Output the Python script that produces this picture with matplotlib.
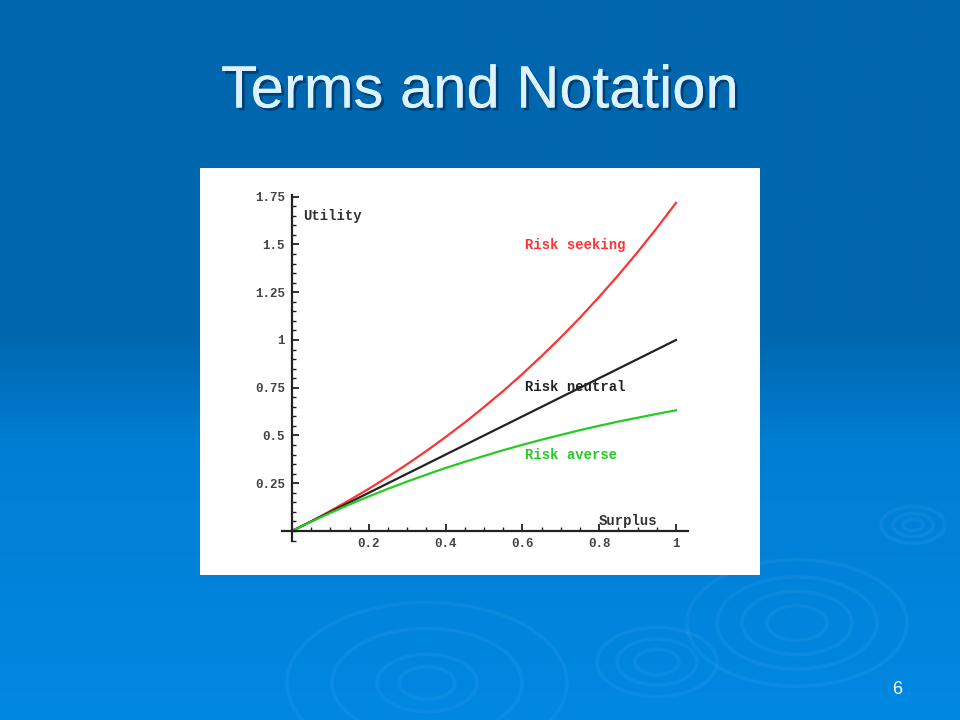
import matplotlib
matplotlib.use("Agg")
import matplotlib.pyplot as plt
import matplotlib.patheffects as pe
from matplotlib.patches import Rectangle, Ellipse
from matplotlib.ticker import MultipleLocator, FixedLocator
import numpy as np

# values
surplus = [0.0, 0.05, 0.1, 0.15, 0.2, 0.25, 0.3, 0.35, 0.4, 0.45, 0.5,
           0.55, 0.6, 0.65, 0.7, 0.75, 0.8, 0.85, 0.9, 0.95, 1.0]
risk_seeking = [0.0, 0.051, 0.105, 0.162, 0.221, 0.284, 0.350, 0.419, 0.492, 0.568, 0.649,
                0.733, 0.822, 0.916, 1.014, 1.117, 1.226, 1.340, 1.460, 1.586, 1.718]
risk_neutral = [0.0, 0.05, 0.1, 0.15, 0.2, 0.25, 0.3, 0.35, 0.4, 0.45, 0.5,
                0.55, 0.6, 0.65, 0.7, 0.75, 0.8, 0.85, 0.9, 0.95, 1.0]
risk_averse = [0.0, 0.049, 0.095, 0.139, 0.181, 0.221, 0.259, 0.295, 0.330, 0.362, 0.393,
               0.423, 0.451, 0.478, 0.503, 0.528, 0.551, 0.573, 0.593, 0.613, 0.632]

x_ticks = [0.2, 0.4, 0.6, 0.8, 1.0]
x_labels = ["0.2", "0.4", "0.6", "0.8", "1"]
y_ticks = [0.25, 0.5, 0.75, 1.0, 1.25, 1.5, 1.75]
y_labels = ["0.25", "0.5", "0.75", "1", "1.25", "1.5", "1.75"]

W, H = 960, 720
fig = plt.figure(figsize=(9.6, 7.2), dpi=100)

# slide background
bg = fig.add_axes([0, 0, 1, 1])
bg.set_xlim(0, W)
bg.set_ylim(H, 0)
bg.axis("off")
stops = [0.0, 0.46, 0.62, 1.0]
cols = np.array([[0x00, 0x66, 0xAE], [0x00, 0x66, 0xAE],
                 [0x00, 0x7E, 0xD4], [0x00, 0x88, 0xE2]]) / 255.0
t = np.linspace(0, 1, 400)
grad = np.stack([np.interp(t, stops, cols[:, i]) for i in range(3)], axis=1)
bg.imshow(grad[:, None, :], extent=[0, W, H, 0], aspect="auto")

# ripples
ripples = [(797, 623, [110, 80, 55, 30]), (657, 662, [60, 40, 22]),
           (913, 525, [32, 20, 10]), (427, 683, [140, 95, 50, 28])]
for cx, cy, radii in ripples:
    for r in radii:
        bg.add_patch(Ellipse((cx, cy), 2 * r, 1.15 * r, fill=False,
                             ec=(0.45, 0.75, 1.0), lw=2.5, alpha=0.1))

# white picture box
bg.add_patch(Rectangle((200, 168), 560, 407, fc="white", ec="none"))

bg.text(480, 92, "Terms and Notation", ha="center", va="center",
        fontsize=43, family="Liberation Sans", color="#DDF2FF",
        path_effects=[pe.withSimplePatchShadow(offset=(2, -2),
                                               shadow_rgbFace="#002850", alpha=0.6),
                      pe.Normal()])
bg.text(897, 689, "6", ha="center", va="center", fontsize=13,
        family="Liberation Sans", color="white")

# plot axes
x0px, ppx = 292, 384.0
y0px, ppy = 531, 191.0
xlim = (-0.025, 1.03)
ylim = (-0.05, 1.76)
left = (x0px + xlim[0] * ppx) / W
right = (x0px + xlim[1] * ppx) / W
bottom = 1 - (y0px - ylim[0] * ppy) / H
top = 1 - (y0px - ylim[1] * ppy) / H
ax = fig.add_axes([left, bottom, right - left, top - bottom])
ax.patch.set_alpha(0)
ax.set_xlim(*xlim)
ax.set_ylim(*ylim)

ax.plot(surplus, risk_seeking, color="#FF3333", lw=1.6)
ax.plot(surplus, risk_neutral, color="#222222", lw=1.6)
ax.plot(surplus, risk_averse, color="#22CC22", lw=1.6)

for s in ["top", "right"]:
    ax.spines[s].set_visible(False)
ax.spines["left"].set_position(("data", 0))
ax.spines["bottom"].set_position(("data", 0))
for s in ["left", "bottom"]:
    ax.spines[s].set_linewidth(1.6)
    ax.spines[s].set_color("#222222")

ax.xaxis.set_major_locator(FixedLocator(x_ticks))
ax.set_xticklabels(x_labels)
ax.yaxis.set_major_locator(FixedLocator(y_ticks))
ax.set_yticklabels(y_labels)
ax.xaxis.set_minor_locator(MultipleLocator(0.05))
ax.yaxis.set_minor_locator(MultipleLocator(0.05))
ax.tick_params(which="major", direction="in", length=5, width=1.3,
               color="#222222", labelsize=9, labelcolor="#444444", pad=5)
ax.tick_params(which="minor", direction="in", length=3, width=1.0, color="#222222")
for lab in ax.get_xticklabels() + ax.get_yticklabels():
    lab.set_family("Liberation Mono")
    lab.set_weight("bold")

mono = dict(family="Liberation Mono", fontweight="bold", fontsize=10)
ax.text(0.03, 1.65, "Utility", color="#333333", va="center", **mono)
ax.text(0.80, 0.05, "Surplus", color="#333333", va="center", **mono)
ax.text(0.607, 1.50, "Risk seeking", color="#FF3333", va="center", **mono)
ax.text(0.607, 0.755, "Risk neutral", color="#222222", va="center", **mono)
ax.text(0.607, 0.40, "Risk averse", color="#22CC22", va="center", **mono)

fig.savefig("out.png", dpi=100)
